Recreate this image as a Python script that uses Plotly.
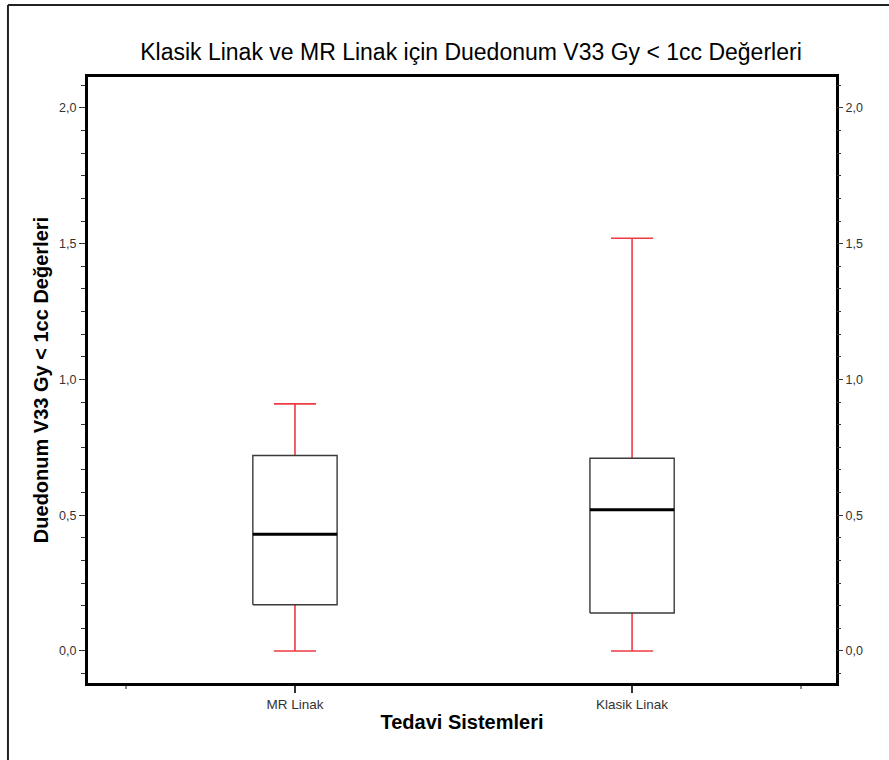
import plotly.graph_objects as go

categories = ["MR Linak", "Klasik Linak"]
lower_whisker = [0.0, 0.0]
q1 = [0.17, 0.14]
median = [0.43, 0.52]
q3 = [0.72, 0.71]
upper_whisker = [0.91, 1.52]

title_text = "Klasik Linak ve MR Linak için Duedonum V33 Gy < 1cc Değerleri"
x_title = "Tedavi Sistemleri"
y_title = "Duedonum V33 Gy < 1cc Değerleri"

BOX_HALF = 0.125
CAP_HALF = 0.0625
RED = "#ee3a44"
FONT = "Liberation Sans, Arial, sans-serif"

fig = go.Figure()
xpos = list(range(len(categories)))

for i, cat in enumerate(categories):
    x0 = xpos[i]
    # whiskers
    fig.add_trace(go.Scatter(
        x=[x0, x0, None, x0 - CAP_HALF, x0 + CAP_HALF, None,
           x0, x0, None, x0 - CAP_HALF, x0 + CAP_HALF],
        y=[q3[i], upper_whisker[i], None, upper_whisker[i], upper_whisker[i], None,
           q1[i], lower_whisker[i], None, lower_whisker[i], lower_whisker[i]],
        mode="lines", line=dict(color=RED, width=1.6),
        showlegend=False, hoverinfo="skip"))
    # box
    fig.add_trace(go.Scatter(
        x=[x0 - BOX_HALF, x0 + BOX_HALF, x0 + BOX_HALF, x0 - BOX_HALF, x0 - BOX_HALF],
        y=[q1[i], q1[i], q3[i], q3[i], q1[i]],
        mode="lines", fill="toself", fillcolor="white",
        line=dict(color="#3a3a3a", width=1.4),
        showlegend=False, name=cat))
    # median
    fig.add_trace(go.Scatter(
        x=[x0 - BOX_HALF, x0 + BOX_HALF], y=[median[i], median[i]],
        mode="lines", line=dict(color="black", width=3),
        showlegend=False, yaxis="y2", name=cat))

YR = [-0.118, 2.114]
tickfont = dict(family=FONT, size=12.5, color="#333333")

yaxis_common = dict(
    range=YR, tickmode="linear", tick0=0, dtick=0.5, tickformat=".1f",
    ticks="outside", ticklen=6, tickwidth=1, tickcolor="#333333",
    minor=dict(tick0=0, dtick=1/12, ticks="outside", ticklen=4, tickcolor="#333333"),
    showgrid=False, zeroline=False, tickfont=tickfont, fixedrange=True)

fig.update_layout(
    width=889, height=760,
    margin=dict(l=88, r=53, t=77, b=77),
    paper_bgcolor="white", plot_bgcolor="white",
    separators=",.",
    title=dict(text=title_text, x=0.512, xref="paper", y=1 - 52 / 760, yref="container",
               xanchor="center", yanchor="middle",
               font=dict(family=FONT, size=23, color="black")),
    xaxis=dict(
        range=[-0.614, 1.605], tickmode="array", tickvals=xpos, ticktext=categories,
        ticks="outside", ticklen=7, tickwidth=1.5, tickcolor="#333333",
        minor=dict(tickmode="array", tickvals=[-0.5, 1.5], ticks="outside",
                   ticklen=3, tickcolor="#888888"),
        showline=True, linecolor="black", linewidth=3, mirror=True,
        showgrid=False, zeroline=False, tickfont=dict(family=FONT, size=13.5, color="#333333"),
        title=dict(text="<b>" + x_title + "</b>", standoff=4,
                   font=dict(family=FONT, size=20, color="black"))),
    yaxis=dict(**yaxis_common, side="left", showline=True, linecolor="black", linewidth=3,
               mirror=True,
               title=dict(text="<b>" + y_title + "</b>", standoff=6,
                          font=dict(family=FONT, size=20, color="black"))),
    yaxis2=dict(**yaxis_common, side="right", overlaying="y", showline=False),
    shapes=[
        dict(type="line", xref="paper", yref="paper", x0=-0.107, x1=-0.107,
             y0=-0.2, y1=1.1188, line=dict(color="#222222", width=2)),
        dict(type="line", xref="paper", yref="paper", x0=-0.107, x1=1.2,
             y0=1.1188, y1=1.1188, line=dict(color="#222222", width=2)),
    ],
)

fig.write_html("out.html", config={"displayModeBar": False},
               post_script="document.body.style.margin='0';document.body.style.overflow='hidden';")
